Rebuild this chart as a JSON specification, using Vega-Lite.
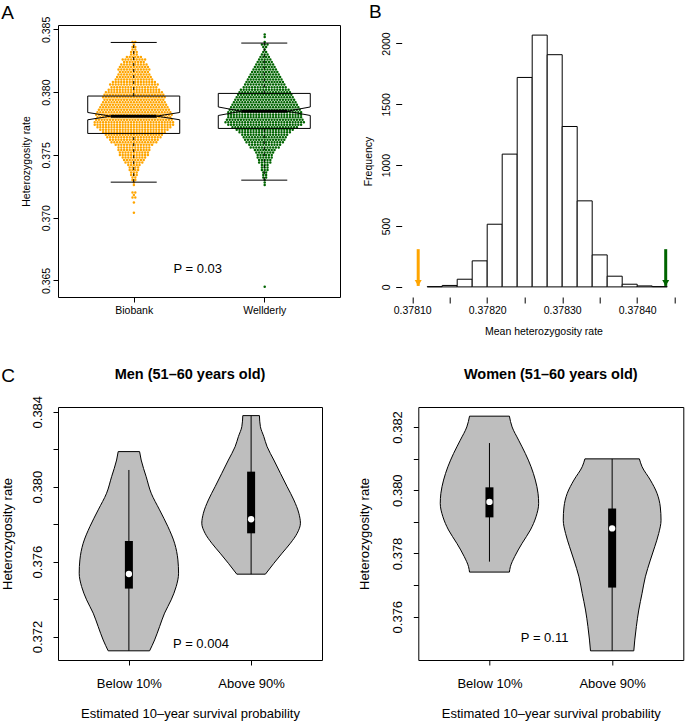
{
"$schema":"https://vega.github.io/schema/vega-lite/v6.json",
"background":"white",
"padding":{"left":0,"top":3,"right":0,"bottom":0},
"autosize":{"type":"pad"},
"config":{"font":"Liberation Sans","view":{"stroke":"black","strokeWidth":1},"axis":{"grid":false,"domain":false,"tickColor":"black","labelColor":"black","titleColor":"black","titleFontWeight":"normal","labelFont":"Liberation Sans","titleFont":"Liberation Sans","tickWidth":1,"labelFlush":false},"title":{"font":"Liberation Sans","color":"black"},"text":{"font":"Liberation Sans","color":"black"}},
"datasets":{
"swarm":[
{"g":"Biobank","v":0.3840,"n":2},{"g":"Biobank","v":0.3838,"n":1},{"g":"Biobank","v":0.3836,"n":2},{"g":"Biobank","v":0.3834,"n":2},{"g":"Biobank","v":0.3832,"n":3},{"g":"Biobank","v":0.3830,"n":3},{"g":"Biobank","v":0.3828,"n":6},{"g":"Biobank","v":0.3826,"n":9},{"g":"Biobank","v":0.3824,"n":8},{"g":"Biobank","v":0.3822,"n":10},{"g":"Biobank","v":0.3820,"n":11},{"g":"Biobank","v":0.3818,"n":12},{"g":"Biobank","v":0.3816,"n":11},{"g":"Biobank","v":0.3814,"n":12},{"g":"Biobank","v":0.3812,"n":13},{"g":"Biobank","v":0.3810,"n":14},{"g":"Biobank","v":0.3808,"n":16},{"g":"Biobank","v":0.3806,"n":18},{"g":"Biobank","v":0.3804,"n":17},{"g":"Biobank","v":0.3802,"n":19},{"g":"Biobank","v":0.3800,"n":21},{"g":"Biobank","v":0.3798,"n":22},{"g":"Biobank","v":0.3796,"n":23},{"g":"Biobank","v":0.3794,"n":22},{"g":"Biobank","v":0.3792,"n":23},{"g":"Biobank","v":0.3790,"n":24},{"g":"Biobank","v":0.3788,"n":25},{"g":"Biobank","v":0.3786,"n":26},{"g":"Biobank","v":0.3784,"n":27},{"g":"Biobank","v":0.3782,"n":28},{"g":"Biobank","v":0.3780,"n":27},{"g":"Biobank","v":0.3778,"n":28},{"g":"Biobank","v":0.3776,"n":29},{"g":"Biobank","v":0.3774,"n":29},{"g":"Biobank","v":0.3772,"n":27},{"g":"Biobank","v":0.3770,"n":25},{"g":"Biobank","v":0.3768,"n":23},{"g":"Biobank","v":0.3766,"n":21},{"g":"Biobank","v":0.3764,"n":20},{"g":"Biobank","v":0.3762,"n":18},{"g":"Biobank","v":0.3760,"n":17},{"g":"Biobank","v":0.3758,"n":14},{"g":"Biobank","v":0.3756,"n":12},{"g":"Biobank","v":0.3754,"n":12},{"g":"Biobank","v":0.3752,"n":11},{"g":"Biobank","v":0.3750,"n":11},{"g":"Biobank","v":0.3748,"n":9},{"g":"Biobank","v":0.3746,"n":8},{"g":"Biobank","v":0.3744,"n":7},{"g":"Biobank","v":0.3742,"n":5},{"g":"Biobank","v":0.3740,"n":4},{"g":"Biobank","v":0.3738,"n":4},{"g":"Biobank","v":0.3736,"n":3},{"g":"Biobank","v":0.3734,"n":3},{"g":"Biobank","v":0.3732,"n":2},{"g":"Biobank","v":0.3730,"n":2},{"g":"Biobank","v":0.3728,"n":1},{"g":"Biobank","v":0.3726,"n":1},{"g":"Biobank","v":0.3720,"n":2},{"g":"Biobank","v":0.3718,"n":1},{"g":"Biobank","v":0.3716,"n":2},{"g":"Biobank","v":0.3712,"n":1},{"g":"Biobank","v":0.3704,"n":1},
{"g":"Wellderly","v":0.3846,"n":1},{"g":"Wellderly","v":0.3844,"n":1},{"g":"Wellderly","v":0.3840,"n":1},{"g":"Wellderly","v":0.3838,"n":3},{"g":"Wellderly","v":0.3836,"n":2},{"g":"Wellderly","v":0.3834,"n":1},{"g":"Wellderly","v":0.3832,"n":2},{"g":"Wellderly","v":0.3830,"n":3},{"g":"Wellderly","v":0.3828,"n":4},{"g":"Wellderly","v":0.3826,"n":5},{"g":"Wellderly","v":0.3824,"n":6},{"g":"Wellderly","v":0.3822,"n":7},{"g":"Wellderly","v":0.3820,"n":8},{"g":"Wellderly","v":0.3818,"n":9},{"g":"Wellderly","v":0.3816,"n":10},{"g":"Wellderly","v":0.3814,"n":11},{"g":"Wellderly","v":0.3812,"n":12},{"g":"Wellderly","v":0.3810,"n":13},{"g":"Wellderly","v":0.3808,"n":14},{"g":"Wellderly","v":0.3806,"n":15},{"g":"Wellderly","v":0.3804,"n":16},{"g":"Wellderly","v":0.3802,"n":18},{"g":"Wellderly","v":0.3800,"n":19},{"g":"Wellderly","v":0.3798,"n":20},{"g":"Wellderly","v":0.3796,"n":21},{"g":"Wellderly","v":0.3794,"n":22},{"g":"Wellderly","v":0.3792,"n":23},{"g":"Wellderly","v":0.3790,"n":24},{"g":"Wellderly","v":0.3788,"n":25},{"g":"Wellderly","v":0.3786,"n":26},{"g":"Wellderly","v":0.3784,"n":27},{"g":"Wellderly","v":0.3782,"n":27},{"g":"Wellderly","v":0.3780,"n":27},{"g":"Wellderly","v":0.3778,"n":28},{"g":"Wellderly","v":0.3776,"n":29},{"g":"Wellderly","v":0.3774,"n":27},{"g":"Wellderly","v":0.3772,"n":24},{"g":"Wellderly","v":0.3770,"n":21},{"g":"Wellderly","v":0.3768,"n":19},{"g":"Wellderly","v":0.3766,"n":17},{"g":"Wellderly","v":0.3764,"n":16},{"g":"Wellderly","v":0.3762,"n":15},{"g":"Wellderly","v":0.3760,"n":14},{"g":"Wellderly","v":0.3758,"n":12},{"g":"Wellderly","v":0.3756,"n":11},{"g":"Wellderly","v":0.3754,"n":8},{"g":"Wellderly","v":0.3752,"n":7},{"g":"Wellderly","v":0.3750,"n":6},{"g":"Wellderly","v":0.3748,"n":6},{"g":"Wellderly","v":0.3746,"n":5},{"g":"Wellderly","v":0.3744,"n":5},{"g":"Wellderly","v":0.3742,"n":3},{"g":"Wellderly","v":0.3740,"n":3},{"g":"Wellderly","v":0.3738,"n":3},{"g":"Wellderly","v":0.3736,"n":2},{"g":"Wellderly","v":0.3734,"n":2},{"g":"Wellderly","v":0.3732,"n":2},{"g":"Wellderly","v":0.3730,"n":1},{"g":"Wellderly","v":0.3728,"n":1},{"g":"Wellderly","v":0.3726,"n":1},{"g":"Wellderly","v":0.3645,"n":1}
],
"boxA":[
{"g":"Biobank","q1":0.37671,"q3":0.37969,"med":0.37809,"nlo":0.37780,"nhi":0.37838,"wlo":0.37283,"whi":0.38396},
{"g":"Wellderly","q1":0.37711,"q3":0.37990,"med":0.37848,"nlo":0.37814,"nhi":0.37882,"wlo":0.37299,"whi":0.38391}
],
"hist":[{"b0":0.37812,"b1":0.37814,"count":2},{"b0":0.37814,"b1":0.37816,"count":12},{"b0":0.37816,"b1":0.37818,"count":63},{"b0":0.37818,"b1":0.3782,"count":214},{"b0":0.3782,"b1":0.37822,"count":515},{"b0":0.37822,"b1":0.37824,"count":1091},{"b0":0.37824,"b1":0.37826,"count":1721},{"b0":0.37826,"b1":0.37828,"count":2069},{"b0":0.37828,"b1":0.3783,"count":1908},{"b0":0.3783,"b1":0.37832,"count":1318},{"b0":0.37832,"b1":0.37834,"count":707},{"b0":0.37834,"b1":0.37836,"count":263},{"b0":0.37836,"b1":0.37838,"count":88},{"b0":0.37838,"b1":0.3784,"count":22},{"b0":0.3784,"b1":0.37842,"count":8},{"b0":0.37842,"b1":0.37844,"count":2}],
"arrows":[{"g":"Biobank","x":0.378108,"top":310,"tip":8},{"g":"Wellderly","x":0.378438,"top":310,"tip":8}],
"violin":[
{"p":"Men","g":"Below 10%","v":0.38187,"d":0.175},{"p":"Men","g":"Below 10%","v":0.38142,"d":0.201},{"p":"Men","g":"Below 10%","v":0.38053,"d":0.283},{"p":"Men","g":"Below 10%","v":0.37965,"d":0.365},{"p":"Men","g":"Below 10%","v":0.37876,"d":0.502},{"p":"Men","g":"Below 10%","v":0.37787,"d":0.638},{"p":"Men","g":"Below 10%","v":0.37698,"d":0.748},{"p":"Men","g":"Below 10%","v":0.37609,"d":0.802},{"p":"Men","g":"Below 10%","v":0.37538,"d":0.813},{"p":"Men","g":"Below 10%","v":0.37467,"d":0.774},{"p":"Men","g":"Below 10%","v":0.37396,"d":0.692},{"p":"Men","g":"Below 10%","v":0.37325,"d":0.584},{"p":"Men","g":"Below 10%","v":0.37253,"d":0.502},{"p":"Men","g":"Below 10%","v":0.37182,"d":0.421},{"p":"Men","g":"Below 10%","v":0.37124,"d":0.339},
{"p":"Men","g":"Above 90%","v":0.38379,"d":0.136},{"p":"Men","g":"Above 90%","v":0.38320,"d":0.152},{"p":"Men","g":"Above 90%","v":0.38267,"d":0.208},{"p":"Men","g":"Above 90%","v":0.38213,"d":0.262},{"p":"Men","g":"Above 90%","v":0.38142,"d":0.372},{"p":"Men","g":"Above 90%","v":0.38071,"d":0.480},{"p":"Men","g":"Above 90%","v":0.38000,"d":0.589},{"p":"Men","g":"Above 90%","v":0.37929,"d":0.699},{"p":"Men","g":"Above 90%","v":0.37858,"d":0.781},{"p":"Men","g":"Above 90%","v":0.37805,"d":0.807},{"p":"Men","g":"Above 90%","v":0.37751,"d":0.753},{"p":"Men","g":"Above 90%","v":0.37698,"d":0.643},{"p":"Men","g":"Above 90%","v":0.37645,"d":0.507},{"p":"Men","g":"Above 90%","v":0.37591,"d":0.372},{"p":"Men","g":"Above 90%","v":0.37533,"d":0.234},
{"p":"Women","g":"Below 10%","v":0.38234,"d":0.325},{"p":"Women","g":"Below 10%","v":0.38200,"d":0.369},{"p":"Women","g":"Below 10%","v":0.38158,"d":0.476},{"p":"Women","g":"Below 10%","v":0.38116,"d":0.585},{"p":"Women","g":"Below 10%","v":0.38074,"d":0.678},{"p":"Women","g":"Below 10%","v":0.38032,"d":0.748},{"p":"Women","g":"Below 10%","v":0.37990,"d":0.792},{"p":"Women","g":"Below 10%","v":0.37958,"d":0.802},{"p":"Women","g":"Below 10%","v":0.37916,"d":0.759},{"p":"Women","g":"Below 10%","v":0.37874,"d":0.667},{"p":"Women","g":"Below 10%","v":0.37832,"d":0.532},{"p":"Women","g":"Below 10%","v":0.37790,"d":0.411},{"p":"Women","g":"Below 10%","v":0.37758,"d":0.341},{"p":"Women","g":"Below 10%","v":0.37741,"d":0.325},
{"p":"Women","g":"Above 90%","v":0.38099,"d":0.444},{"p":"Women","g":"Above 90%","v":0.38074,"d":0.488},{"p":"Women","g":"Above 90%","v":0.38032,"d":0.623},{"p":"Women","g":"Above 90%","v":0.37990,"d":0.732},{"p":"Women","g":"Above 90%","v":0.37947,"d":0.785},{"p":"Women","g":"Above 90%","v":0.37905,"d":0.797},{"p":"Women","g":"Above 90%","v":0.37863,"d":0.759},{"p":"Women","g":"Above 90%","v":0.37821,"d":0.694},{"p":"Women","g":"Above 90%","v":0.37779,"d":0.623},{"p":"Women","g":"Above 90%","v":0.37726,"d":0.541},{"p":"Women","g":"Above 90%","v":0.37674,"d":0.488},{"p":"Women","g":"Above 90%","v":0.37621,"d":0.434},{"p":"Women","g":"Above 90%","v":0.37569,"d":0.395},{"p":"Women","g":"Above 90%","v":0.37526,"d":0.369},{"p":"Women","g":"Above 90%","v":0.37492,"d":0.353}
],
"boxC":[
{"p":"Men","g":"Below 10%","q1":0.37456,"q3":0.37710,"med":0.37534,"wlo":0.37124,"whi":0.38089},
{"p":"Men","g":"Above 90%","q1":0.37751,"q3":0.38080,"med":0.37826,"wlo":0.37533,"whi":0.38379},
{"p":"Women","g":"Below 10%","q1":0.37914,"q3":0.38009,"med":0.37963,"wlo":0.37774,"whi":0.38149},
{"p":"Women","g":"Above 90%","q1":0.37692,"q3":0.37942,"med":0.37879,"wlo":0.37492,"whi":0.38099}
],
"notes":[{"p":"A","x":1.49,"y":0.36588,"label":"P = 0.03"},{"p":"Men","x":1.59,"y":0.37161,"label":"P = 0.004"},{"p":"Women","x":1.45,"y":0.37532,"label":"P = 0.11"}],
"letters":[{"p":"A","x":0.0347,"y":0.3858,"label":"A"},{"p":"B","x":0.3780508,"y":2207,"label":"B"},{"p":"Men","x":0.0125,"y":0.3856,"label":"C"}]
},
"vconcat":[
{"hconcat":[
{"width":282,"height":272,
"layer":[
{"data":{"name":"swarm"},"transform":[{"filter":"datum.g == 'Biobank'"}],
"mark":{"type":"rule","orient":"horizontal","color":"#FFA500","strokeWidth":2.5,"strokeCap":"round","strokeDash":[0,2.8],"strokeDashOffset":1.4},
"encoding":{"x":{"field":"n","type":"quantitative","stack":"center","scale":{"domain":[-12.61,88.11],"nice":false,"zero":false},"axis":null},
"y":{"field":"v","type":"quantitative","scale":{"domain":[0.36368,0.38535],"nice":false,"zero":false},"axis":{"title":"Heterozygosity rate","titleFontSize":10.5,"labelFontSize":10.5,"values":[0.365,0.37,0.375,0.38,0.385],"format":".3f","labelAngle":-90,"tickSize":5,"labelPadding":2,"titlePadding":10}}}},
{"data":{"name":"swarm"},"transform":[{"filter":"datum.g == 'Wellderly'"}],
"mark":{"type":"rule","orient":"horizontal","color":"#006400","strokeWidth":2.5,"strokeCap":"round","strokeDash":[0,2.8],"strokeDashOffset":1.4},
"encoding":{"x":{"field":"n","type":"quantitative","stack":"center","scale":{"domain":[-59.32,41.39],"nice":false,"zero":false},"axis":null},
"y":{"field":"v","type":"quantitative"}}},
{"data":{"name":"boxA"},
"encoding":{"x":{"field":"g","type":"nominal","scale":{"type":"point","padding":0.58,"domain":["Biobank","Wellderly"]},"axis":{"orient":"bottom","title":null,"labelAngle":0,"labelFontSize":10.5,"tickSize":5,"labelPadding":3}}},
"layer":[
{"mark":{"type":"rule","color":"black","xOffset":-46,"x2Offset":46},"encoding":{"x2":{"field":"g"},"y":{"field":"q3","type":"quantitative"}}},
{"mark":{"type":"rule","color":"black","xOffset":-46,"x2Offset":46},"encoding":{"x2":{"field":"g"},"y":{"field":"q1","type":"quantitative"}}},
{"mark":{"type":"rule","color":"black","xOffset":-46},"encoding":{"y":{"field":"q3","type":"quantitative"},"y2":{"field":"nhi"}}},
{"mark":{"type":"rule","color":"black","xOffset":46},"encoding":{"y":{"field":"q3","type":"quantitative"},"y2":{"field":"nhi"}}},
{"mark":{"type":"rule","color":"black","xOffset":-46},"encoding":{"y":{"field":"nlo","type":"quantitative"},"y2":{"field":"q1"}}},
{"mark":{"type":"rule","color":"black","xOffset":46},"encoding":{"y":{"field":"nlo","type":"quantitative"},"y2":{"field":"q1"}}},
{"mark":{"type":"rule","color":"black","xOffset":-46,"x2Offset":-23},"encoding":{"x2":{"field":"g"},"y":{"field":"nhi","type":"quantitative"},"y2":{"field":"med"}}},
{"mark":{"type":"rule","color":"black","xOffset":-23,"x2Offset":-46},"encoding":{"x2":{"field":"g"},"y":{"field":"med","type":"quantitative"},"y2":{"field":"nlo"}}},
{"mark":{"type":"rule","color":"black","xOffset":46,"x2Offset":23},"encoding":{"x2":{"field":"g"},"y":{"field":"nhi","type":"quantitative"},"y2":{"field":"med"}}},
{"mark":{"type":"rule","color":"black","xOffset":23,"x2Offset":46},"encoding":{"x2":{"field":"g"},"y":{"field":"med","type":"quantitative"},"y2":{"field":"nlo"}}},
{"mark":{"type":"rule","color":"black","strokeWidth":3,"xOffset":-23,"x2Offset":23},"encoding":{"x2":{"field":"g"},"y":{"field":"med","type":"quantitative"}}},
{"mark":{"type":"rule","color":"black","strokeDash":[3,3]},"encoding":{"y":{"field":"q3","type":"quantitative"},"y2":{"field":"whi"}}},
{"mark":{"type":"rule","color":"black","strokeDash":[3,3]},"encoding":{"y":{"field":"wlo","type":"quantitative"},"y2":{"field":"q1"}}},
{"mark":{"type":"rule","color":"black","xOffset":-23,"x2Offset":23},"encoding":{"x2":{"field":"g"},"y":{"field":"whi","type":"quantitative"}}},
{"mark":{"type":"rule","color":"black","xOffset":-23,"x2Offset":23},"encoding":{"x2":{"field":"g"},"y":{"field":"wlo","type":"quantitative"}}}
]},
{"layer":[
{"data":{"name":"notes"},"transform":[{"filter":"datum.p == 'A'"}],"mark":{"type":"text","fontSize":13,"align":"center","baseline":"middle"},"encoding":{"x":{"field":"x","type":"quantitative","scale":{"domain":[0.42,2.58],"nice":false,"zero":false},"axis":null},"y":{"field":"y","type":"quantitative"},"text":{"field":"label"}}},
{"data":{"name":"letters"},"transform":[{"filter":"datum.p == 'A'"}],"mark":{"type":"text","fontSize":19,"align":"center","baseline":"alphabetic"},"encoding":{"x":{"field":"x","type":"quantitative"},"y":{"field":"y","type":"quantitative"},"text":{"field":"label"}}}
]}
],
"resolve":{"scale":{"x":"independent"}}
},
{"width":283.5,"height":272,"view":{"stroke":null},
"layer":[
{"data":{"name":"hist"},"mark":{"type":"bar","fill":"white","stroke":"black","strokeWidth":1},
"encoding":{"x":{"field":"b0","type":"quantitative","scale":{"domain":[0.378086,0.378464],"nice":false,"zero":false},"axis":{"title":"Mean heterozygosity rate","titleFontSize":10.5,"labelFontSize":10.5,"values":[0.3781,0.37815,0.3782,0.37825,0.3783,0.37835,0.3784,0.37845],"labelExpr":"round(datum.value*100000) % 2 == 0 ? format(datum.value, '.5f') : ''","tickSize":6,"labelPadding":2,"titlePadding":11}},
"x2":{"field":"b1"},
"y":{"field":"count","type":"quantitative","scale":{"domain":[-83,2152],"nice":false,"zero":false},"axis":{"title":"Frequency","titleFontSize":10.5,"labelFontSize":10.5,"values":[0,500,1000,1500,2000],"format":"d","labelAngle":-90,"tickSize":6,"labelPadding":4,"titlePadding":8}},
"y2":{"datum":0}}},
{"mark":{"type":"rule","color":"black"},"encoding":{"x":{"datum":0.3781,"type":"quantitative"},"x2":{"datum":0.37845},"y":{"datum":-83,"type":"quantitative"}}},
{"mark":{"type":"rule","color":"black"},"encoding":{"x":{"datum":0.378086,"type":"quantitative"},"y":{"datum":0,"type":"quantitative"},"y2":{"datum":2000}}},
{"data":{"name":"arrows"},"mark":{"type":"rule","strokeWidth":3},"encoding":{"x":{"field":"x","type":"quantitative"},"y":{"field":"top","type":"quantitative"},"y2":{"field":"tip"},"color":{"field":"g","type":"nominal","scale":{"domain":["Biobank","Wellderly"],"range":["#FFA500","#006400"]},"legend":null}}},
{"data":{"name":"arrows"},"mark":{"type":"point","shape":"M-1,-1.7L1,-1.7L0,0Z","size":49,"filled":true,"opacity":1},"encoding":{"x":{"field":"x","type":"quantitative"},"y":{"field":"tip","type":"quantitative"},"color":{"field":"g","type":"nominal","legend":null}}},
{"data":{"name":"letters"},"transform":[{"filter":"datum.p == 'B'"}],"mark":{"type":"text","fontSize":19,"align":"center","baseline":"alphabetic"},"encoding":{"x":{"field":"x","type":"quantitative"},"y":{"field":"y","type":"quantitative"},"text":{"field":"label"}}}
]}
],"spacing":61.7,"bounds":"flush"},
{"hconcat":[
{"width":264,"height":253,
"title":{"text":"Men (51–60 years old)","fontSize":14.5,"fontWeight":"bold","anchor":"middle","frame":"group","baseline":"alphabetic","offset":-27},
"layer":[
{"data":{"name":"violin"},"transform":[{"filter":"datum.p == 'Men' && datum.g == 'Below 10%'"}],
"mark":{"type":"area","orient":"horizontal","interpolate":"monotone","fill":"#BEBEBE","stroke":"black","strokeWidth":1},
"encoding":{"x":{"field":"d","type":"quantitative","stack":"center","scale":{"domain":[-0.1735,1.9865],"nice":false,"zero":false},"axis":null},
"y":{"field":"v","type":"quantitative","scale":{"domain":[0.37075,0.38425],"nice":false,"zero":false},"axis":{"title":"Heterozygosity rate","titleFontSize":13,"labelFontSize":13,"values":[0.372,0.374,0.376,0.378,0.38,0.382,0.384],"labelExpr":"round(datum.value*1000) % 4 == 0 ? format(datum.value, '.3f') : ''","labelAngle":-90,"tickSize":5,"labelPadding":9,"titlePadding":17}}}},
{"data":{"name":"violin"},"transform":[{"filter":"datum.p == 'Men' && datum.g == 'Above 90%'"}],
"mark":{"type":"area","orient":"horizontal","interpolate":"monotone","fill":"#BEBEBE","stroke":"black","strokeWidth":1},
"encoding":{"x":{"field":"d","type":"quantitative","stack":"center","scale":{"domain":[-1.1765,0.9835],"nice":false,"zero":false},"axis":null},
"y":{"field":"v","type":"quantitative"}}},
{"data":{"name":"boxC"},"transform":[{"filter":"datum.p == 'Men'"}],
"encoding":{"x":{"field":"g","type":"nominal","scale":{"type":"point","padding":0.58,"domain":["Below 10%","Above 90%"]},"axis":{"orient":"bottom","title":"Estimated 10–year survival probability","titleFontSize":13,"labelFontSize":13,"labelAngle":0,"tickSize":5,"labelPadding":12,"titlePadding":17}}},
"layer":[
{"mark":{"type":"rule","color":"black","strokeWidth":1},"encoding":{"y":{"field":"wlo","type":"quantitative"},"y2":{"field":"whi"}}},
{"mark":{"type":"bar","color":"black","size":8},"encoding":{"y":{"field":"q1","type":"quantitative"},"y2":{"field":"q3"}}},
{"mark":{"type":"point","filled":true,"color":"white","size":40,"opacity":1},"encoding":{"y":{"field":"med","type":"quantitative"}}}
]},
{"layer":[
{"data":{"name":"notes"},"transform":[{"filter":"datum.p == 'Men'"}],"mark":{"type":"text","fontSize":13,"align":"center","baseline":"middle"},"encoding":{"x":{"field":"x","type":"quantitative","scale":{"domain":[0.42,2.58],"nice":false,"zero":false},"axis":null},"y":{"field":"y","type":"quantitative"},"text":{"field":"label"}}},
{"data":{"name":"letters"},"transform":[{"filter":"datum.p == 'Men'"}],"mark":{"type":"text","fontSize":19,"align":"center","baseline":"alphabetic"},"encoding":{"x":{"field":"x","type":"quantitative"},"y":{"field":"y","type":"quantitative"},"text":{"field":"label"}}}
]}
],
"resolve":{"scale":{"x":"independent"}}
},
{"width":265,"height":253,
"title":{"text":"Women (51–60 years old)","fontSize":14.5,"fontWeight":"bold","anchor":"middle","frame":"group","baseline":"alphabetic","offset":14},
"layer":[
{"data":{"name":"violin"},"transform":[{"filter":"datum.p == 'Women' && datum.g == 'Below 10%'"}],
"mark":{"type":"area","orient":"horizontal","interpolate":"monotone","fill":"#BEBEBE","stroke":"black","strokeWidth":1},
"encoding":{"x":{"field":"d","type":"quantitative","stack":"center","scale":{"domain":[-0.179,1.981],"nice":false,"zero":false},"axis":null},
"y":{"field":"v","type":"quantitative","scale":{"domain":[0.37463,0.38263],"nice":false,"zero":false},"axis":{"title":"Heterozygosity rate","titleFontSize":13,"labelFontSize":13,"values":[0.376,0.377,0.378,0.379,0.38,0.381,0.382],"labelExpr":"round(datum.value*1000) % 2 == 0 ? format(datum.value, '.3f') : ''","labelAngle":-90,"tickSize":5,"labelPadding":9,"titlePadding":20}}}},
{"data":{"name":"violin"},"transform":[{"filter":"datum.p == 'Women' && datum.g == 'Above 90%'"}],
"mark":{"type":"area","orient":"horizontal","interpolate":"monotone","fill":"#BEBEBE","stroke":"black","strokeWidth":1},
"encoding":{"x":{"field":"d","type":"quantitative","stack":"center","scale":{"domain":[-1.1815,0.9785],"nice":false,"zero":false},"axis":null},
"y":{"field":"v","type":"quantitative"}}},
{"data":{"name":"boxC"},"transform":[{"filter":"datum.p == 'Women'"}],
"encoding":{"x":{"field":"g","type":"nominal","scale":{"type":"point","padding":0.58,"domain":["Below 10%","Above 90%"]},"axis":{"orient":"bottom","title":"Estimated 10–year survival probability","titleFontSize":13,"labelFontSize":13,"labelAngle":0,"tickSize":5,"labelPadding":12,"titlePadding":17}}},
"layer":[
{"mark":{"type":"rule","color":"black","strokeWidth":1},"encoding":{"y":{"field":"wlo","type":"quantitative"},"y2":{"field":"whi"}}},
{"mark":{"type":"bar","color":"black","size":8},"encoding":{"y":{"field":"q1","type":"quantitative"},"y2":{"field":"q3"}}},
{"mark":{"type":"point","filled":true,"color":"white","size":40,"opacity":1},"encoding":{"y":{"field":"med","type":"quantitative"}}}
]},
{"data":{"name":"notes"},"transform":[{"filter":"datum.p == 'Women'"}],"mark":{"type":"text","fontSize":13,"align":"center","baseline":"middle"},"encoding":{"x":{"field":"x","type":"quantitative","scale":{"domain":[0.42,2.58],"nice":false,"zero":false},"axis":null},"y":{"field":"y","type":"quantitative"},"text":{"field":"label"}}}
],
"resolve":{"scale":{"x":"independent"}}
}
],"spacing":96.3,"bounds":"flush"}
],
"spacing":29
}
